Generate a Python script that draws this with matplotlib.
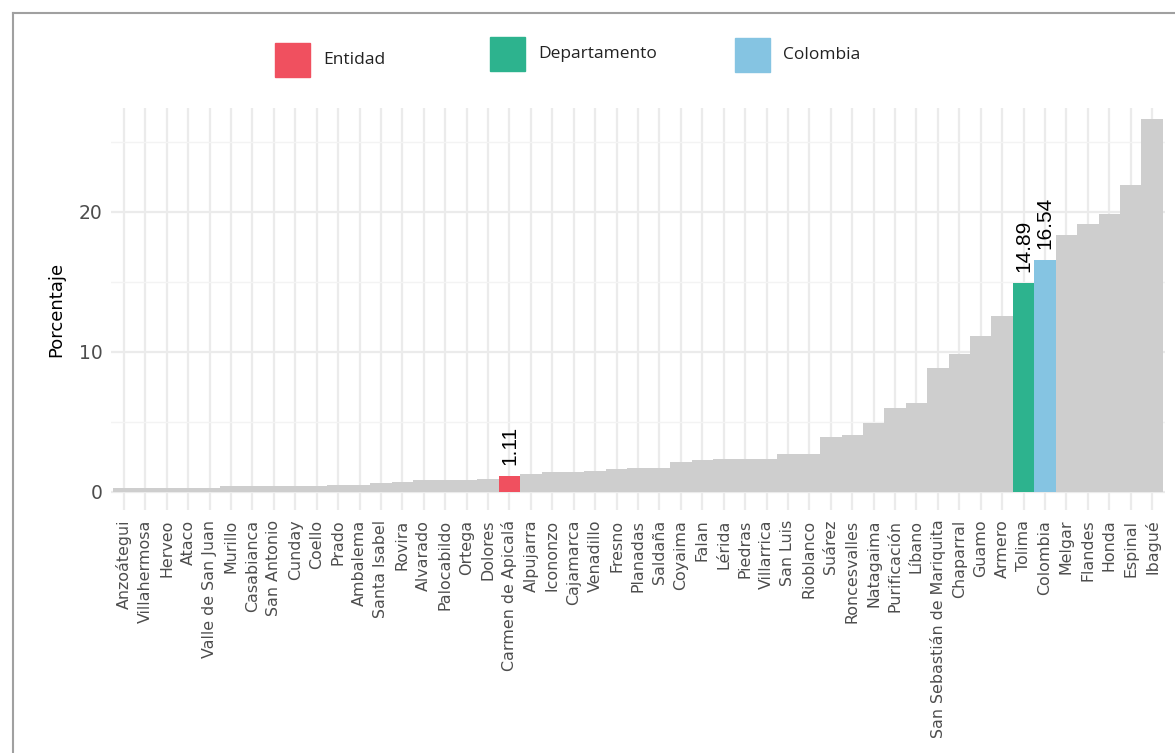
"""Porcentaje por municipio - Tolima"""
import matplotlib
matplotlib.use('Agg')
import matplotlib.pyplot as plt
from matplotlib.patches import Rectangle
from matplotlib.lines import Line2D

# data
municipios = ['Anzoátegui', 'Villahermosa', 'Herveo', 'Ataco', 'Valle de San Juan',
              'Murillo', 'Casabianca', 'San Antonio', 'Cunday', 'Coello', 'Prado',
              'Ambalema', 'Santa Isabel', 'Rovira', 'Alvarado', 'Palocabildo', 'Ortega',
              'Dolores', 'Carmen de Apicalá', 'Alpujarra', 'Icononzo', 'Cajamarca',
              'Venadillo', 'Fresno', 'Planadas', 'Saldaña', 'Coyaima', 'Falan', 'Lérida',
              'Piedras', 'Villarrica', 'San Luis', 'Rioblanco', 'Suárez', 'Roncesvalles',
              'Natagaima', 'Purificación', 'Líbano', 'San Sebastián de Mariquita',
              'Chaparral', 'Guamo', 'Armero', 'Tolima', 'Colombia', 'Melgar', 'Flandes',
              'Honda', 'Espinal', 'Ibagué']
porcentaje = [0.24, 0.24, 0.24, 0.24, 0.24,
              0.38, 0.38, 0.38, 0.38, 0.38, 0.50,
              0.50, 0.60, 0.71, 0.81, 0.81, 0.81,
              0.93, 1.11, 1.26, 1.38, 1.38,
              1.50, 1.60, 1.69, 1.69, 2.15, 2.26, 2.36,
              2.36, 2.36, 2.69, 2.69, 3.90, 4.04,
              4.90, 5.96, 6.30, 8.86,
              9.84, 11.14, 12.57, 14.89, 16.54, 18.36, 19.12,
              19.81, 21.88, 26.60]
destacados = {'Carmen de Apicalá': 'Entidad', 'Tolima': 'Departamento', 'Colombia': 'Colombia'}
colores = {'Entidad': '#F0505F', 'Departamento': '#2DB38E', 'Colombia': '#85C4E2'}
gris = '#CECECE'

W, H = 1175, 753
fig = plt.figure(figsize=(W / 100, H / 100), dpi=100)
ax = fig.add_axes([111 / W, 1 - 510 / H, (1165 - 111) / W, (510 - 108) / H])

x = list(range(len(municipios)))
bar_colors = [colores[destacados[m]] if m in destacados else gris for m in municipios]
ax.bar(x, porcentaje, width=1.0, color=bar_colors, zorder=2)

# value labels on highlighted bars
for i, (m, v) in enumerate(zip(municipios, porcentaje)):
    if m in destacados:
        ax.text(i, v + 0.8, f'{v:.2f}', rotation=90, ha='center', va='bottom',
                fontsize=15, family='Liberation Sans', color='black', zorder=3)

ax.set_xlim(-0.6, len(municipios) - 0.4)
ax.set_ylim(-1.31, 27.4)
ax.set_xticks(x)
ax.set_xticklabels(municipios, rotation=90, fontsize=11.4, color='#4D4D4D')
ax.set_yticks([0, 10, 20])
ax.set_yticks([5, 15, 25], minor=True)
ax.tick_params(axis='y', labelsize=13.5, colors='#4D4D4D', length=0, pad=6)
ax.tick_params(axis='y', which='minor', length=0)
ax.tick_params(axis='x', length=0, pad=7)
ax.set_ylabel('Porcentaje', fontsize=13, color='black', labelpad=10)

ax.grid(True, which='major', color='#EBEBEB', linewidth=1.6, zorder=0)
ax.grid(True, which='minor', axis='y', color='#F3F3F3', linewidth=1.0, zorder=0)
ax.set_axisbelow(True)
for s in ax.spines.values():
    s.set_visible(False)

# legend at the top, drawn in figure pixels
legend = [('Entidad', 275, 43), ('Departamento', 490, 37), ('Colombia', 735, 38)]
for name, px, py in legend:
    fig.patches.append(Rectangle((px / W, 1 - (py + 34) / H), 35 / W, 34 / H,
                                 transform=fig.transFigure, color=colores[name]))
    fig.text((px + 48) / W, 1 - (py + 17) / H, name, fontsize=12.5, family='Open Sans',
             color='#222222', va='center', ha='left')

# frame of the screenshot
fig.add_artist(Line2D([13 / W, 1], [1 - 13 / H, 1 - 13 / H], color='#A0A0A0', lw=1.5,
                      transform=fig.transFigure))
fig.add_artist(Line2D([13 / W, 13 / W], [0, 1 - 13 / H], color='#A0A0A0', lw=1.5,
                      transform=fig.transFigure))

fig.savefig('out.png', dpi=100)
